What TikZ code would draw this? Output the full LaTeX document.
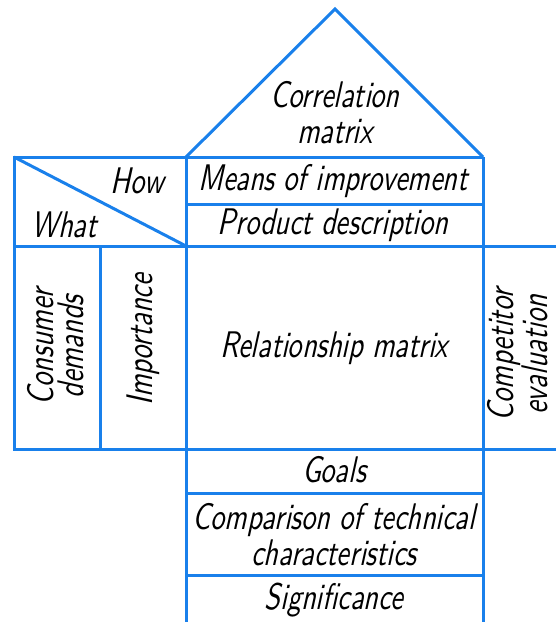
\documentclass[tikz,border=0pt]{standalone}
\usepackage{fontspec}
\newfontfamily\gost{lmsans10-regular.otf}[FakeStretch=0.76,FakeSlant=0.22]
\definecolor{hqblue}{RGB}{25,128,235}

\begin{document}
\begin{tikzpicture}[x=1pt,y=-1pt,line width=3pt,
    wall/.style={draw=hqblue,line join=miter},
    txt/.style={font=\gost\fontsize{37}{36}\selectfont,align=center,inner sep=0pt},
    side/.style={txt,rotate=90,font=\gost\fontsize{37}{30}\selectfont}]
  \useasboundingbox (0,0) rectangle (556,622);
  % roof
  \draw[wall] (186,157) -- (335,9) -- (483,157);
  % left block
  \draw[wall] (483,157) -- (14,157) -- (14,449) -- (556,449);
  \draw[wall] (14,157) -- (186,246);
  \draw[wall] (14,246) -- (556,246);
  \draw[wall] (100,246) -- (100,449);
  % middle columns
  \draw[wall] (186,157) -- (186,622);
  \draw[wall] (483,157) -- (483,622);
  \draw[wall] (186,204) -- (483,204);
  \draw[wall] (186,493) -- (483,493);
  \draw[wall] (186,575) -- (483,575);
  % texts
  \node[txt] (corr) at (335,113) {Correlation\\matrix};
  \node[txt] (how) at (137,181) {How};
  \node[txt] (what) at (64,225) {What};
  \node[txt] (means) at (333,181) {Means of improvement};
  \node[txt] (prod) at (333,225) {Product description};
  \node[side] (cons) at (56,347) {Consumer\\demands};
  \node[side] (imp) at (143,340) {Importance};
  \node[txt] (rel) at (334,348) {Relationship matrix};
  \node[side,anchor=south] (comp) at (549,355) {Competitor\\evaluation};
  \node[txt] (goals) at (334,470) {Goals};
  \node[txt] (tech) at (334,535) {Comparison of technical\\characteristics};
  \node[txt] (sig) at (334,600) {Significance};
\end{tikzpicture}
\end{document}
